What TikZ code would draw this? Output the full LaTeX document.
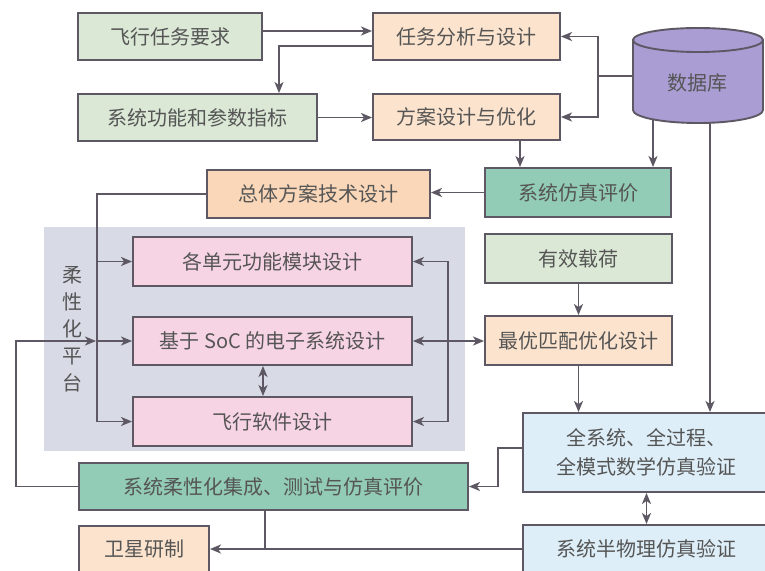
\documentclass[tikz,border=0pt]{standalone}
\usepackage{fontspec}
\setmainfont{Noto Sans CJK SC}
\usetikzlibrary{arrows.meta}
\definecolor{gbox}{HTML}{DAE8D5}
\definecolor{obox}{HTML}{FCE3CD}
\definecolor{obox2}{HTML}{F9D7B8}
\definecolor{tbox}{HTML}{92CBB6}
\definecolor{pbox}{HTML}{F7D4E3}
\definecolor{bbox}{HTML}{DDEEF8}
\definecolor{platc}{HTML}{D8DBE6}
\definecolor{dbc}{HTML}{A99DD3}
\definecolor{edgec}{HTML}{5E5864}
\definecolor{txtc}{HTML}{555555}
\begin{document}
\begin{tikzpicture}[x=1pt,y=-1pt,
  box/.style={draw=edgec, line width=1.9pt, rectangle, inner sep=0pt, font=\fontsize{20}{24}\selectfont, text=txtc, align=center},
  ln/.style={draw=edgec, line width=1.9pt},
  arr/.style={ln, -{Stealth[length=11pt,width=9pt,inset=3pt]}},
  darr/.style={ln, {Stealth[length=11pt,width=9pt,inset=3pt]}-{Stealth[length=11pt,width=9pt,inset=3pt]}}]
\clip (0,0) rectangle (765,570);
\fill[white] (0,0) rectangle (765,570);
% platform background
\node[fill=platc, inner sep=0pt, minimum width=421pt, minimum height=224pt] (platbg) at (254.5,339) {};
\node[font=\fontsize{20}{27}\selectfont, text=txtc, align=center, inner sep=0pt] (platlbl) at (72,329) {柔\\性\\化\\平\\台};
% boxes
\node[box, fill=gbox, minimum width=184pt, minimum height=47pt] (req) at (170,36.5) {飞行任务要求};
\node[box, fill=gbox, minimum width=239pt, minimum height=47pt] (func) at (197.5,117.5) {系统功能和参数指标};
\node[box, fill=obox, minimum width=187pt, minimum height=47pt] (ana) at (466.5,36.5) {任务分析与设计};
\node[box, fill=obox, minimum width=187pt, minimum height=46pt] (plan) at (466.5,117) {方案设计与优化};
\node[box, fill=tbox, minimum width=186pt, minimum height=49pt] (sim) at (578,192.5) {系统仿真评价};
\node[box, fill=obox2, minimum width=223pt, minimum height=48pt] (overall) at (318.5,194) {总体方案技术设计};
\node[box, fill=pbox, minimum width=279pt, minimum height=49pt] (unit) at (272.5,261.5) {各单元功能模块设计};
\node[box, fill=pbox, minimum width=279pt, minimum height=48pt] (soc) at (272.5,341) {基于 SoC 的电子系统设计};
\node[box, fill=pbox, minimum width=279pt, minimum height=49pt] (fsw) at (272.5,421.5) {飞行软件设计};
\node[box, fill=gbox, minimum width=187pt, minimum height=49pt] (load) at (578.5,258.5) {有效载荷};
\node[box, fill=obox, minimum width=187pt, minimum height=49pt] (opt) at (578.5,340.5) {最优匹配优化设计};
\node[box, fill=bbox, minimum width=247pt, minimum height=79pt, font=\fontsize{20}{29}\selectfont] (full) at (646.5,452.5) {全系统、全过程、\\全模式数学仿真验证};
\node[box, fill=bbox, minimum width=247pt, minimum height=48pt] (semi) at (646.5,549) {系统半物理仿真验证};
\node[box, fill=tbox, minimum width=389pt, minimum height=47pt] (integ) at (273.5,486.5) {系统柔性化集成、测试与仿真评价};
\node[box, fill=obox, minimum width=130pt, minimum height=46pt] (sat) at (144,549) {卫星研制};
% database cylinder
\filldraw[fill=dbc, draw=edgec, line width=1.9pt] (633,40) -- (633,110) arc[start angle=180, end angle=0, x radius=65, y radius=13] -- (763,40) -- cycle;
\filldraw[fill=dbc, draw=edgec, line width=1.9pt] (698,40) ellipse[x radius=65, y radius=12];
\node[font=\fontsize{20}{24}\selectfont, text=txtc] (db) at (697,83) {数据库};
\coordinate (dbw) at (633,76);
\coordinate (dbj) at (598,76);
\coordinate (dbb1) at (653,119.5);
\coordinate (dbb2) at (710,122.5);
% connectors
\draw[arr] ([yshift=5.5pt]req.east) -- ([yshift=5.5pt]ana.west);
\coordinate (a2f) at ([xshift=81.5pt]func.north);
\draw[arr] ([yshift=-9.5pt]ana.west) -| (a2f);
\draw[arr] (func.east) -- (func.east -| plan.west);
\draw[ln] (dbw) -- (dbj);
\draw[arr] (dbj) |- (ana.east);
\draw[arr] (dbj) |- (plan.east);
\coordinate (p1) at ([xshift=53.5pt]plan.south);
\draw[arr] (p1) -- (p1 |- sim.north);
\draw[arr] (dbb1) -- (dbb1 |- sim.north);
\draw[arr] (dbb2) -- (dbb2 |- full.north);
\draw[arr] (sim.west) -- (sim.west -| overall.east);
\coordinate (lx) at (97,194);
\draw[ln] (overall.west) -- (lx) -- (lx |- fsw.west);
\draw[arr] (lx |- unit.west) -- (unit.west);
\draw[arr] (lx |- soc.west) -- (soc.west);
\draw[arr] (lx |- fsw.west) -- (fsw.west);
\coordinate (fbx) at (16,341);
\draw[arr] (integ.west) -| (fbx) -- ([xshift=-1pt]lx |- soc.west);
\coordinate (rx) at (448,341);
\draw[darr] (unit.east) -| (rx) |- (fsw.east);
\draw[darr] (soc.east) -- (soc.east -| opt.west);
\coordinate (sx) at ([xshift=-9.5pt]soc.south);
\draw[darr] (sx) -- (sx |- fsw.north);
\draw[arr] (load.south) -- (opt.north);
\draw[arr] (opt.south) -- (opt.south |- full.north);
\coordinate (f1) at ([yshift=4.5pt]full.west);
\coordinate (fk) at (498,448);
\draw[arr] (f1) -- (fk) |- (integ.east);
\draw[darr] (full.south) -- (semi.north);
\draw[arr] (semi.west) -- (semi.west -| sat.east);
\coordinate (ij) at ([xshift=-8.5pt]integ.south);
\draw[ln] (ij) -- (ij |- sat.east);
\end{tikzpicture}
\end{document}
